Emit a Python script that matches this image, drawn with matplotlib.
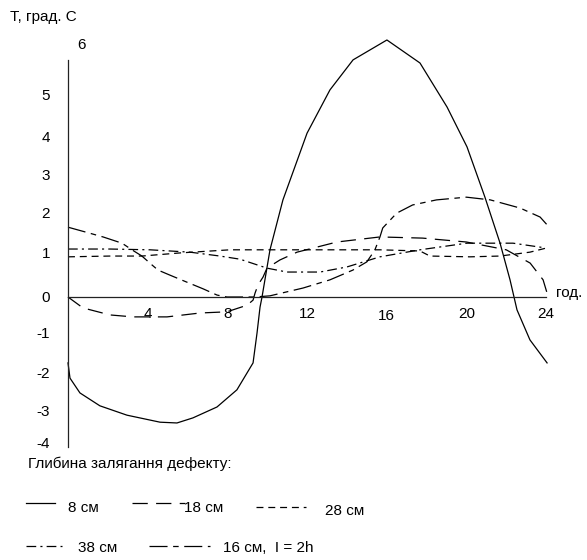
import matplotlib
matplotlib.use("Agg")
import matplotlib.pyplot as plt
import matplotlib.transforms as mtransforms
from matplotlib.lines import Line2D

plt.rcParams['font.family'] = ['Liberation Sans', 'DejaVu Sans']
plt.rcParams['font.size'] = 11
plt.rcParams['lines.scale_dashes'] = False

# hours / temperature difference
t_8 = [0, 0.1, 0.6, 1.6, 2.96, 4.62, 5.47, 6.27, 7.48, 8.48, 9.29, 9.49, 9.64, 9.74,
       10.14, 10.79, 12.0, 13.15, 14.31, 16.01, 17.67, 19.03, 20.03, 20.93, 21.69,
       22.19, 22.54, 23.19, 24.05]
T_8 = [-1.69, -2.08, -2.46, -2.79, -3.03, -3.21, -3.23, -3.10, -2.82, -2.38, -1.69,
       -0.92, -0.26, 0.0, 1.21, 2.49, 4.2, 5.31, 6.08, 6.59, 6.0, 4.87, 3.85, 2.56,
       1.38, 0.44, -0.33, -1.10, -1.69]

t_18 = [0, 0.75, 2.11, 3.26, 4.97, 6.63, 7.98, 8.99, 9.29, 9.39, 9.54, 9.79, 9.99,
        10.64, 11.5, 13.5, 15.66, 17.8, 20.0, 22.0, 23.2, 23.85, 24.05]
T_18 = [0, -0.28, -0.46, -0.51, -0.51, -0.41, -0.38, -0.21, -0.08, 0.1, 0.31, 0.51,
        0.74, 0.95, 1.15, 1.41, 1.54, 1.51, 1.41, 1.21, 0.87, 0.44, 0.1]

t_28 = [0, 2.11, 3.71, 5.62, 8.13, 11.65, 15.66, 17.67, 18.17, 20.18, 21.69, 23.19, 24.05]
T_28 = [1.03, 1.05, 1.05, 1.13, 1.21, 1.21, 1.21, 1.18, 1.05, 1.03, 1.05, 1.15, 1.26]

t_38 = [0, 2.11, 4.12, 6.12, 7.63, 8.63, 9.99, 10.99, 12.65, 14.0, 15.66, 17.67,
        20.03, 22.34, 23.95]
T_38 = [1.23, 1.23, 1.21, 1.15, 1.05, 0.97, 0.74, 0.64, 0.64, 0.77, 1.03, 1.21,
        1.38, 1.38, 1.26]

t_16 = [0, 0.85, 1.76, 2.71, 3.21, 3.71, 4.22, 4.52, 5.12, 5.97, 6.78, 7.48, 7.98,
        8.63, 9.39, 10.14, 11.8, 13.15, 14.3, 15.0, 15.4, 15.66, 15.8, 16.5, 17.3,
        18.5, 20.0, 21.2, 22.7, 23.7, 24.05]
T_16 = [1.79, 1.67, 1.54, 1.38, 1.21, 1.05, 0.82, 0.69, 0.56, 0.38, 0.21, 0.05, 0.0,
        0.0, 0.0, 0.03, 0.23, 0.44, 0.69, 0.9, 1.2, 1.54, 1.77, 2.15, 2.36, 2.49,
        2.56, 2.49, 2.28, 2.05, 1.85]

x_ticks = [4, 8, 12, 16, 20, 24]
y_ticks = [-4, -3, -2, -1, 0, 1, 2, 3, 4, 5]

legend_title = "Глибина залягання дефекту:"
labels = ["8 см", "18 см", "28 см", "38 см", "16 см,  I = 2h"]

W, H = 587, 560
fig = plt.figure(figsize=(W / 100, H / 100), dpi=100)
ax = fig.add_axes([0, 0, 1, 1])

# pixel layout: x=0 at 68 px, 19.92 px per hour; T=0 at 297 px, 39 px per degree
px_x, px_y = 19.92, 39.0
ax.set_xlim(-68 / px_x, (W - 68) / px_x)
ax.set_ylim((297 - H) / px_y, 297 / px_y)

styles = {
    "8": dict(ls="-"),
    "18": dict(ls=(0, (11, 6))),
    "28": dict(ls=(0, (5, 3.5))),
    "38": dict(ls=(0, (7, 3, 1.5, 3))),
    "16": dict(ls=(0, (13, 4, 4, 4))),
}
kw = dict(color="black", lw=0.9, clip_on=False)
ax.plot(t_8, T_8, **styles["8"], **kw)
ax.plot(t_18, T_18, **styles["18"], **kw)
ax.plot(t_28, T_28, **styles["28"], **kw)
ax.plot(t_38, T_38, **styles["38"], **kw)
ax.plot(t_16, T_16, **styles["16"], **kw)

for s in ["top", "right"]:
    ax.spines[s].set_visible(False)
ax.spines["left"].set_position(("data", 0))
ax.spines["bottom"].set_position(("data", 0))
ax.spines["left"].set_bounds(-3.85, 6.08)
ax.spines["bottom"].set_bounds(0, 24)
for s in ["left", "bottom"]:
    ax.spines[s].set_linewidth(0.9)
    ax.spines[s].set_color("#222222")

ax.set_xticks(x_ticks)
ax.set_xticklabels([str(v) for v in x_ticks])
ax.set_yticks(y_ticks)
ax.set_yticklabels([str(v) for v in y_ticks])
ax.tick_params(axis="x", length=0, pad=7, labelsize=11)
ax.tick_params(axis="y", length=0, pad=13, labelsize=11)
ax.patch.set_visible(False)

# the y labels in the source sit a few pixels above their ticks
label_shift = {-4: 11, -3: 4, -2: 3, -1: 3, 0: 0, 1: 5, 2: 6, 3: 5, 4: 5, 5: 7}
for v, lab in zip(y_ticks, ax.get_yticklabels()):
    off = mtransforms.ScaledTranslation(0, label_shift[v] / 100, fig.dpi_scale_trans)
    lab.set_transform(lab.get_transform() + off)
xl = ax.get_xticklabels()
off16 = mtransforms.ScaledTranslation(0, -2 / 100, fig.dpi_scale_trans)
xl[x_ticks.index(16)].set_transform(xl[x_ticks.index(16)].get_transform() + off16)


def fx(px):
    return px / W


def fy(py):
    return 1 - py / H


fig.text(fx(82), fy(45), "6", ha="center", va="center", fontsize=11)
fig.text(fx(10), fy(17), "T, град. C", ha="left", va="center", fontsize=11)
fig.text(fx(556), fy(293), "год.", ha="left", va="center", fontsize=11)

# legend block
fig.text(fx(28), fy(464), legend_title, ha="left", va="center", fontsize=11)
samples = [
    ("8", (26, 55), 503, (68, 508)),
    ("18", (132, 185), 503, (184, 508)),
    ("28", (256, 306), 507, (325, 511)),
    ("38", (26, 62), 546, (78, 548)),
    ("16", (149, 210), 546, (223, 548)),
]
for (key, (x0, x1), ly, (tx, ty)), lab in zip(samples, labels):
    fig.add_artist(Line2D([fx(x0), fx(x1)], [fy(ly), fy(ly)], transform=fig.transFigure,
                          color="black", lw=0.9, **styles[key]))
    fig.text(fx(tx), fy(ty), lab, ha="left", va="center", fontsize=11)

fig.savefig("out.png", dpi=100)
